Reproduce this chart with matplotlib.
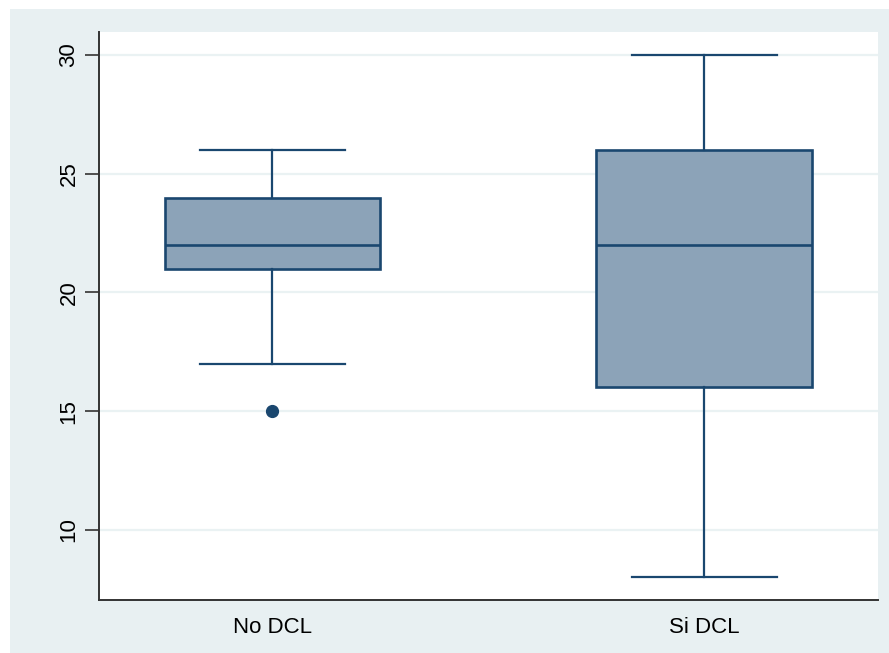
import matplotlib as mpl
mpl.use('Agg')
import matplotlib.pyplot as plt  # NOQA
from matplotlib.patches import Rectangle  # NOQA

# box statistics
groups = ['No DCL', 'Si DCL']
q1 = [21, 16]
medians = [22, 22]
q3 = [24, 26]
whis_lo = [17, 8]
whis_hi = [26, 30]
outliers = [[15], []]
y_ticks = [10, 15, 20, 25, 30]

navy = '#1a476f'
box_fill = '#8ca3b8'
bg = '#e8f0f2'
grid_col = '#eaf2f3'

stats = []
for i, g in enumerate(groups):
    stats.append({'label': g, 'q1': q1[i], 'med': medians[i], 'q3': q3[i],
                  'whislo': whis_lo[i], 'whishi': whis_hi[i],
                  'fliers': outliers[i]})

plt.rcParams['font.family'] = ['Liberation Sans', 'DejaVu Sans']

fig = plt.figure(figsize=(8.89, 6.53), dpi=100, facecolor=bg)
# white margin strips on top and left, the rest stays background
fig.add_artist(Rectangle((0, 644 / 653), 1, 1, transform=fig.transFigure,
                         facecolor='white', edgecolor='none', zorder=-5))
fig.add_artist(Rectangle((0, 0), 10 / 889, 1, transform=fig.transFigure,
                         facecolor='white', edgecolor='none', zorder=-5))

ax = fig.add_axes([99 / 889, 53 / 653, 779 / 889, 568 / 653])
ax.set_facecolor('white')

ax.bxp(stats, positions=[1, 2], widths=0.5, patch_artist=True,
       showfliers=True,
       boxprops=dict(facecolor=box_fill, edgecolor=navy, linewidth=1.9),
       medianprops=dict(color=navy, linewidth=1.9),
       whiskerprops=dict(color=navy, linewidth=1.6),
       capprops=dict(color=navy, linewidth=1.6),
       capwidths=0.336,
       flierprops=dict(marker='o', markerfacecolor=navy,
                       markeredgecolor=navy, markersize=8.5),
       zorder=3)

ax.set_xlim(0.598, 2.403)
ax.set_ylim(7.05, 30.97)
ax.set_yticks(y_ticks)
ax.set_yticklabels([str(t) for t in y_ticks], rotation=90, va='center',
                   fontsize=16)
ax.set_xticks([1, 2])
ax.set_xticklabels(groups, fontsize=16)
ax.tick_params(axis='x', length=0, pad=12)
ax.tick_params(axis='y', length=10, width=1.2, color='#333333', pad=4)

ax.grid(axis='y', color=grid_col, linewidth=1.6, zorder=0)
ax.set_axisbelow(True)

for s in ['top', 'right']:
    ax.spines[s].set_visible(False)
for s in ['left', 'bottom']:
    ax.spines[s].set_color('#333333')
    ax.spines[s].set_linewidth(1.4)

fig.savefig('out.png', dpi=100, facecolor=bg)
